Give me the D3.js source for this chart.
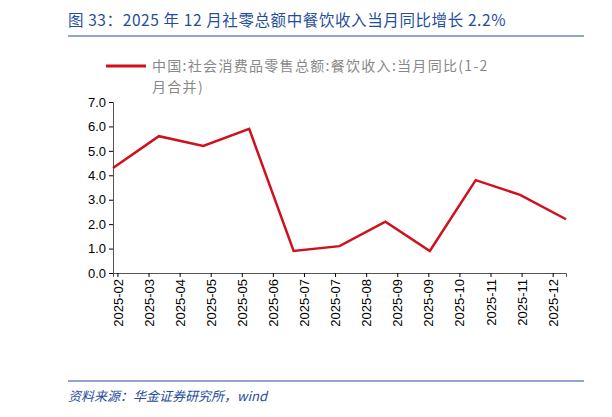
<!DOCTYPE html>
<html><head><meta charset="utf-8">
<script src="https://cdn.jsdelivr.net/npm/d3@7"></script>
<style>body{margin:0;background:#fff;font-family:"Noto Sans CJK SC","Noto Sans",sans-serif}</style>
</head><body><svg id="c" width="612" height="417"></svg>
<script>
// monthly values, Feb–Dec 2025
const months = ['2025-02','2025-03','2025-04','2025-05','2025-06','2025-07','2025-08','2025-09','2025-10','2025-11','2025-12'];
const values = [4.3, 5.6, 5.2, 5.9, 0.9, 1.1, 2.1, 0.9, 3.8, 3.2, 2.2];
const yTicks = [0, 1, 2, 3, 4, 5, 6, 7];
const xTickLabels = ['2025-02','2025-03','2025-04','2025-05','2025-05','2025-06','2025-07','2025-07',
  '2025-08','2025-09','2025-09','2025-10','2025-11','2025-11','2025-12'];
const seriesLines = ['中国:社会消费品零售总额:餐饮收入:当月同比(1-2', '月合并)'];

const svg = d3.select('#c');
const blue = '#1f4e9c';
const red = '#d0101c';

// title + rules
svg.append('text').attr('x', 68).attr('y', 26).attr('fill', blue).attr('font-size', 15.5)
  .attr('letter-spacing', 0.6)
  .text('图 33：2025 年 12 月社零总额中餐饮收入当月同比增长 2.2%');
svg.append('line').attr('x1', 68).attr('x2', 584).attr('y1', 36).attr('y2', 36).attr('stroke', blue).attr('stroke-width', 1);
svg.append('line').attr('x1', 68).attr('x2', 584).attr('y1', 381).attr('y2', 381).attr('stroke', blue).attr('stroke-width', 1);
svg.append('text').attr('x', 68).attr('y', 401).attr('fill', blue).attr('font-size', 13)
  .attr('font-style', 'italic').text('资料来源：华金证券研究所，wind');

// scales: month-end dates on a time axis
const dates = months.map(m => d3.timeDay.offset(d3.timeMonth.offset(d3.timeParse('%Y-%m')(m), 1), -1));
const x = d3.scaleTime().domain(d3.extent(dates)).range([113, 566]);
const y = d3.scaleLinear().domain([0, 7]).range([273, 102]);

// legend
svg.append('line').attr('x1', 106).attr('x2', 146).attr('y1', 66).attr('y2', 66).attr('stroke', red).attr('stroke-width', 3);
const lg = svg.append('text').attr('fill', '#888').attr('font-size', 14).attr('letter-spacing', 1.3);
seriesLines.forEach((s, i) => lg.append('tspan').attr('x', 152).attr('y', 71 + 21 * i).text(s));

// y axis
const ya = svg.append('g').attr('transform', 'translate(113,0)')
  .call(d3.axisLeft(y).tickValues(yTicks).tickFormat(d3.format('.1f')).tickSize(4));
ya.select('.domain').attr('stroke', '#555');
ya.selectAll('text').attr('font-size', 13).attr('fill', '#000').attr('font-family', 'Liberation Sans, Arial');

// x axis: ticks every 21 days
const xTicks = xTickLabels.map((_, i) => d3.timeDay.offset(dates[0], 3 + 21 * i));
const xa = svg.append('g').attr('transform', 'translate(0,273)')
  .call(d3.axisBottom(x).tickValues(xTicks).tickFormat((d, i) => xTickLabels[i]).tickSize(4));
xa.select('.domain').attr('stroke', '#555');
xa.selectAll('text').attr('font-size', 13).attr('fill', '#000').attr('font-family', 'Liberation Sans, Arial')
  .attr('transform', 'rotate(-90)').attr('text-anchor', 'end').attr('x', -6).attr('y', 0).attr('dy', '0.35em');

// line
svg.append('path').datum(values)
  .attr('fill', 'none').attr('stroke', red).attr('stroke-width', 2.5)
  .attr('d', d3.line().x((d, i) => x(dates[i])).y(d => y(d)));
</script></body></html>
